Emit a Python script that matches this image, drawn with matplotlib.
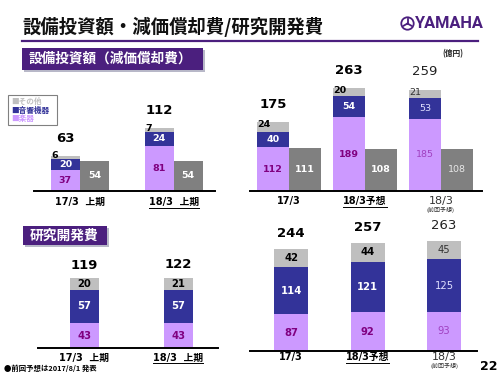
import numpy as np
import matplotlib.pyplot as plt
from matplotlib.patches import Rectangle, Circle
from matplotlib.lines import Line2D

# data (億円)
h1_cats = ['17/3  上期', '18/3  上期']
fy_cats = ['17/3', '18/3予想', '18/3']
fy_sub = '(前回予想)'

capex_h1_instr = [37, 81]
capex_h1_audio = [20, 24]
capex_h1_other = [6, 7]
capex_h1_total = [63, 112]
dep_h1 = [54, 54]

capex_fy_instr = [112, 189, 185]
capex_fy_audio = [40, 54, 53]
capex_fy_other = [24, 20, 21]
capex_fy_total = [175, 263, 259]
dep_fy = [111, 108, 108]

rd_h1_instr = [43, 43]
rd_h1_audio = [57, 57]
rd_h1_other = [20, 21]
rd_h1_total = [119, 122]

rd_fy_instr = [87, 92, 93]
rd_fy_audio = [114, 121, 125]
rd_fy_other = [42, 44, 45]
rd_fy_total = [244, 257, 263]

legend_labels = ['その他', '音響機器', '楽器']

C_INSTR = '#CC99FF'
C_AUDIO = '#333399'
C_OTHER = '#BFBFBF'
C_DEP = '#808080'
C_PURPLE = '#4B1F7E'

CJK = ['Noto Sans CJK JP', 'DejaVu Sans']
NUM = ['DejaVu Sans', 'Noto Sans CJK JP']

W, H = 500, 375
fig = plt.figure(figsize=(5, 3.75), dpi=100)


def fx(x):
    return x / W


def fy(y):
    return 1 - y / H


def add_ax(x0, x1, ytop, ybot, xlim, ylim):
    ax = fig.add_axes([fx(x0), fy(ybot), (x1 - x0) / W, (ybot - ytop) / H])
    ax.set_xlim(*xlim)
    ax.set_ylim(*ylim)
    for s in ['top', 'right', 'left']:
        ax.spines[s].set_visible(False)
    ax.spines['bottom'].set_linewidth(1.4)
    ax.spines['bottom'].set_zorder(5)
    ax.set_xticks([])
    ax.set_yticks([])
    ax.patch.set_alpha(0)
    return ax


def draw_stack(ax, xs, width, instr, audio, other, total, faint_last,
               other_left, total_pad, fs=6.8, tfs=9.5):
    n = len(instr)
    b2 = np.add(instr, audio)
    ax.bar(xs, instr, width, color=C_INSTR)
    ax.bar(xs, audio, width, bottom=instr, color=C_AUDIO)
    ax.bar(xs, other, width, bottom=b2, color=C_OTHER)
    for i in range(n):
        faint = faint_last and i == n - 1
        wt = 'normal' if faint else 'bold'
        ax.text(xs[i], instr[i] / 2, str(instr[i]), ha='center', va='center',
                fontsize=fs, weight=wt, family=NUM,
                color='#A040C0' if faint else '#800080')
        ax.text(xs[i], instr[i] + audio[i] / 2, str(audio[i]), ha='center',
                va='center', fontsize=fs, weight=wt, family=NUM,
                color='#E0E0FF' if faint else 'white')
        if other_left:
            ax.annotate(str(other[i]), (xs[i] - width / 2, b2[i] + other[i] / 2),
                        xytext=(0.5, 1.5), textcoords='offset points',
                        ha='left', va='center', fontsize=fs, weight=wt,
                        family=NUM, color='#333333' if faint else 'black')
        else:
            ax.text(xs[i], b2[i] + other[i] / 2, str(other[i]), ha='center',
                    va='center', fontsize=fs, weight=wt, family=NUM,
                    color='#333333' if faint else 'black')
        ax.annotate(str(total[i]), (xs[i], b2[i] + other[i]),
                    xytext=(0, total_pad), textcoords='offset points',
                    ha='center', va='bottom', fontsize=tfs, weight=wt,
                    family=NUM, color='#222222' if faint else 'black')


def draw_dep(ax, xs, width, dep, faint_last, fs=6.8):
    ax.bar(xs, dep, width, color=C_DEP)
    for i, v in enumerate(dep):
        faint = faint_last and i == len(dep) - 1
        ax.text(xs[i], v / 2, str(v), ha='center', va='center', fontsize=fs,
                weight='normal' if faint else 'bold', family=NUM,
                color='#E8E8E8' if faint else 'white')


underlined = []


def cat_labels(ax, cats, pad, faint_last, sub_pad=None):
    for i, c in enumerate(cats):
        faint = faint_last and i == len(cats) - 1
        t = ax.annotate(c, (i, 0), xycoords=('data', 'axes fraction'),
                        xytext=(0, -pad), textcoords='offset points',
                        ha='center', va='center',
                        fontsize=8 if faint else 7, family=NUM,
                        weight='normal' if faint else 'bold',
                        color='#333333' if faint else 'black')
        if c.startswith('18/3') and not faint:
            underlined.append(t)
        if faint:
            ax.annotate(fy_sub, (i, 0), xycoords=('data', 'axes fraction'),
                        xytext=(0, -sub_pad), textcoords='offset points',
                        ha='center', va='center', fontsize=4.3, family=CJK,
                        color='#333333')


# ---- capex first half (top-left)
ax1 = add_ax(34, 215, 100, 191, (-0.49, 1.44), (0, 162.5))
x = np.arange(len(h1_cats))
w = 0.31
draw_stack(ax1, x - w / 2, w, capex_h1_instr, capex_h1_audio, capex_h1_other,
           capex_h1_total, False, True, 8)
draw_dep(ax1, x + w / 2, w, dep_h1, False)
cat_labels(ax1, h1_cats, 8, False)

# ---- capex full year (top-right)
ax2 = add_ax(250, 482, 60, 191, (-0.51, 2.54), (0, 336))
x = np.arange(len(fy_cats))
w = 0.42
draw_stack(ax2, x - w / 2, w, capex_fy_instr, capex_fy_audio, capex_fy_other,
           capex_fy_total, True, True, 8.5)
draw_dep(ax2, x + w / 2, w, dep_fy, True)
cat_labels(ax2, fy_cats, 7.5, True, 14)

# ---- R&D first half (bottom-left)
ax3 = add_ax(38, 218, 255, 348, (-0.49, 1.42), (0, 160))
x = np.arange(len(h1_cats))
draw_stack(ax3, x, 0.31, rd_h1_instr, rd_h1_audio, rd_h1_other, rd_h1_total,
           False, False, 4.5, fs=7.2)
cat_labels(ax3, h1_cats, 7, False)

# ---- R&D full year (bottom-right)
ax4 = add_ax(250, 477, 215, 351, (-0.54, 2.43), (0, 324))
x = np.arange(len(fy_cats))
draw_stack(ax4, x, 0.44, rd_fy_instr, rd_fy_audio, rd_fy_other, rd_fy_total,
           True, False, 6.5, fs=7.2)
cat_labels(ax4, fy_cats, 4.5, True, 11)

# ---- title and header
fig.text(fx(22), fy(27), '設備投資額・減価償却費/研究開発費', fontsize=13.2,
         weight='bold', family=CJK, va='center', ha='left', color='#111111')
fig.add_artist(Line2D([fx(22), fx(478)], [fy(41), fy(41)], color=C_PURPLE,
                      lw=1.6, transform=fig.transFigure))

# logo
cx, cy = 407.5 / 100, (H - 23.5) / 100
fig.add_artist(Circle((cx, cy), 0.062, fill=False, ec=C_PURPLE, lw=1.3,
                      transform=fig.dpi_scale_trans))
for ang in [90, 210, 330]:
    a = np.deg2rad(ang)
    fig.add_artist(Line2D([cx, cx + 0.045 * np.cos(a)],
                          [cy, cy + 0.045 * np.sin(a)],
                          color=C_PURPLE, lw=1.3, transform=fig.dpi_scale_trans))
fig.text(fx(415), fy(24), 'YAMAHA', fontsize=11.8, weight='bold',
         family=['Roboto', 'DejaVu Sans'], color=C_PURPLE,
         va='center', ha='left')

# section boxes
for (bx0, by0, bx1, by1, label, fsz) in [
        (22, 48, 203, 70, '設備投資額（減価償却費）', 9.8),
        (23, 226, 107, 245, '研究開発費', 9.9)]:
    fig.add_artist(Rectangle((fx(bx0 + 2), fy(by1 + 2)), (bx1 - bx0) / W,
                             (by1 - by0) / H, transform=fig.transFigure,
                             color='#B8B8C8', lw=0))
    fig.add_artist(Rectangle((fx(bx0), fy(by1)), (bx1 - bx0) / W,
                             (by1 - by0) / H, transform=fig.transFigure,
                             color=C_PURPLE, lw=0))
    fig.text(fx(bx0 + 7), fy((by0 + by1) / 2), label, fontsize=fsz,
             weight='bold', family=CJK, color='white', va='center', ha='left')

fig.text(fx(453), fy(54), '(億円)', fontsize=5.5, weight='bold', family=CJK,
         ha='center', va='center', color='#222222')

# legend
fig.add_artist(Rectangle((fx(8), fy(125)), 49 / W, 30 / H,
                         transform=fig.transFigure, fill=False,
                         ec='#808080', lw=0.8))
for lbl, col, yy in zip(legend_labels, [C_OTHER, C_AUDIO, C_INSTR],
                        [101, 110, 119]):
    fig.text(fx(11), fy(yy), '■' + lbl, fontsize=5.5, family=CJK,
             weight='bold', color=col, va='center', ha='left')

# footnote and page number
fig.text(fx(4), fy(368), '●前回予想は2017/8/1 発表', fontsize=5.3,
         family=CJK, weight='bold', va='center', ha='left')
fig.text(fx(489), fy(367), '22', fontsize=9, family=NUM, weight='bold',
         va='center', ha='center')

# underlines
fig.canvas.draw()
for t in underlined:
    bb = t.get_window_extent()
    fig.add_artist(Line2D([bb.x0 / W, bb.x1 / W],
                          [(bb.y0 - 0.5) / H, (bb.y0 - 0.5) / H],
                          color='black', lw=0.7, transform=fig.transFigure))

fig.savefig('out.png', dpi=100)
